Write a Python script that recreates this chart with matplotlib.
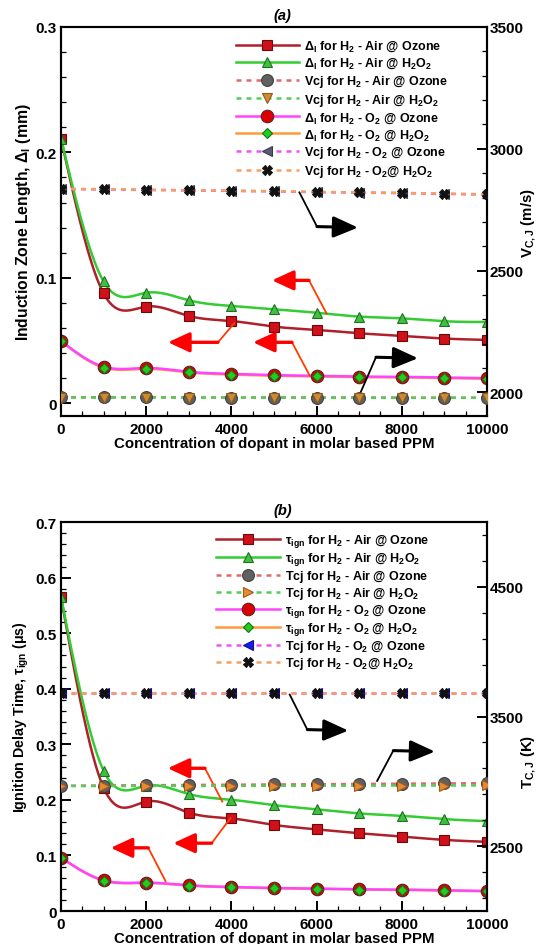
import numpy as np
import matplotlib
matplotlib.use('Agg')
import matplotlib.pyplot as plt
from matplotlib.lines import Line2D
from matplotlib.ticker import MultipleLocator, FixedLocator, FuncFormatter

plt.rcParams.update({
    'font.family': ['Liberation Sans', 'DejaVu Sans'],
    'font.weight': 'bold',
    'axes.labelweight': 'bold',
    'mathtext.fontset': 'custom',
    'mathtext.rm': 'Liberation Sans:bold',
    'mathtext.it': 'Liberation Sans:bold',
    'mathtext.bf': 'Liberation Sans:bold',
    'mathtext.default': 'regular',
})

# dopant concentration (ppm)
ppm = [0, 1000, 2000, 3000, 4000, 5000, 6000, 7000, 8000, 9000, 10000]

# (a) induction zone length (mm) and CJ velocity (m/s)
delta_air_o3 = [0.211, 0.0875, 0.077, 0.0695, 0.0655, 0.061, 0.0584, 0.0557, 0.0536, 0.0515, 0.0504]
delta_air_h2o2 = [0.211, 0.097, 0.088, 0.082, 0.0775, 0.0748, 0.0721, 0.069, 0.0676, 0.0653, 0.0647]
vcj_air_o3 = [1980, 1980, 1980, 1979, 1979, 1979, 1979, 1979, 1978, 1978, 1978]
vcj_air_h2o2 = [1979, 1979, 1979, 1979, 1979, 1979, 1978, 1978, 1978, 1978, 1978]
delta_o2_o3 = [0.0496, 0.029, 0.028, 0.025, 0.0233, 0.0223, 0.0218, 0.0212, 0.021, 0.0204, 0.0199]
delta_o2_h2o2 = [0.0494, 0.0284, 0.0273, 0.0245, 0.0228, 0.0218, 0.0213, 0.0207, 0.0205, 0.0199, 0.0194]
vcj_o2_o3 = [2835, 2833, 2831, 2829, 2827, 2825, 2822, 2820, 2818, 2815, 2812]
vcj_o2_h2o2 = [2836, 2834, 2832, 2830, 2828, 2826, 2823, 2821, 2819, 2816, 2813]

# (b) ignition delay time (us) and CJ temperature (K)
tau_air_o3 = [0.565, 0.222, 0.197, 0.177, 0.1666, 0.155, 0.147, 0.140, 0.134, 0.128, 0.1245]
tau_air_h2o2 = [0.565, 0.2525, 0.2255, 0.2105, 0.2002, 0.1906, 0.183, 0.1756, 0.1714, 0.1654, 0.1618]
tcj_air_o3 = [2966, 2968, 2970, 2972, 2974, 2976, 2978, 2980, 2982, 2984, 2986]
tcj_air_h2o2 = [2964, 2964, 2965, 2965, 2966, 2966, 2967, 2967, 2968, 2968, 2969]
tau_o2_o3 = [0.0962, 0.0553, 0.0511, 0.0463, 0.0433, 0.0415, 0.0403, 0.039, 0.0385, 0.0373, 0.036]
tau_o2_h2o2 = [0.0958, 0.0547, 0.0505, 0.0457, 0.0427, 0.041, 0.0398, 0.0385, 0.038, 0.0368, 0.0355]
tcj_o2_o3 = [3680, 3680, 3680, 3680, 3680, 3680, 3680, 3680, 3680, 3680, 3680]
tcj_o2_h2o2 = [3681, 3681, 3681, 3681, 3681, 3681, 3681, 3681, 3681, 3681, 3681]

LW = 1.8


def spline(x, y, n=600):
    # natural cubic spline through the points, like the plotting package's curve fit
    x = np.asarray(x, float)
    y = np.asarray(y, float)
    h = np.diff(x)
    m = len(x)
    A = np.zeros((m, m))
    r = np.zeros(m)
    A[0, 0] = A[-1, -1] = 1
    for i in range(1, m - 1):
        A[i, i - 1] = h[i - 1]
        A[i, i] = 2 * (h[i - 1] + h[i])
        A[i, i + 1] = h[i]
        r[i] = 6 * ((y[i + 1] - y[i]) / h[i] - (y[i] - y[i - 1]) / h[i - 1])
    M = np.linalg.solve(A, r)
    xs = np.linspace(x[0], x[-1], n)
    k = np.clip(np.searchsorted(x, xs) - 1, 0, m - 2)
    hk = h[k]
    a = x[k + 1] - xs
    b = xs - x[k]
    ys = (M[k] * a ** 3 + M[k + 1] * b ** 3) / (6 * hk) \
        + (y[k] / hk - M[k] * hk / 6) * a + (y[k + 1] / hk - M[k + 1] * hk / 6) * b
    return xs, ys


def series(ax, y, color, ls, marker, mfc, mec, ms, smooth, zl=2, zm=3):
    dash = {} if ls == '-' else {'dashes': (2.0, 2.0)}
    if smooth:
        xs, ys = spline(ppm, y)
        ax.plot(xs, ys, color=color, lw=LW, ls=ls, zorder=zl)
    else:
        ax.plot(ppm, y, color=color, lw=LW, ls=ls, zorder=zl, **dash)
    ax.plot(ppm, y, ls='none', marker=marker, mfc=mfc, mec=mec, ms=ms, mew=0.8, zorder=zm)
    return Line2D([], [], color=color, lw=LW, ls=ls, marker=marker, mfc=mfc, mec=mec, ms=ms,
                  mew=0.8, **dash)


def arrow(ax, start, corner, tip, color, lw_thin, lw_shaft, hl, hw):
    ax.plot([start[0], corner[0]], [start[1], corner[1]], color=color if color == 'k' else '#ff3b00',
            lw=lw_thin, zorder=6, solid_capstyle='butt')
    ax.annotate('', xy=tip, xytext=corner,
                arrowprops=dict(arrowstyle='-|>,head_length=%g,head_width=%g' % (hl, hw),
                                color=color, lw=lw_shaft, shrinkA=0, shrinkB=0, mutation_scale=10),
                zorder=6)


def style_axes(ax, ax2):
    ax.set_xlim(0, 10000)
    ax.xaxis.set_major_locator(MultipleLocator(2000))
    ax.xaxis.set_minor_locator(MultipleLocator(500))
    for a in (ax, ax2):
        a.tick_params(which='major', direction='in', length=7, width=1.4, labelsize=11)
        a.tick_params(which='minor', direction='in', length=3.5, width=0.9)
        for s in a.spines.values():
            s.set_linewidth(1.5)
    ax.tick_params(axis='x', pad=4)
    ax.tick_params(axis='y', pad=3)
    ax2.tick_params(axis='y', pad=2)
    ax.yaxis.set_major_formatter(FuncFormatter(lambda v, p: '%g' % round(v, 3)))
    ax.set_xlabel('Concentration of dopant in molar based PPM', fontsize=10.8, labelpad=0)


LEG = dict(loc='upper left', frameon=False, fontsize=9, handlelength=5.1, handletextpad=0.4,
           borderpad=0, numpoints=1)

fig = plt.figure(figsize=(5.44, 9.45), dpi=100)

# ---------------- (a) ----------------
ax = fig.add_axes([0.1121, 0.5587, 0.7831, 0.4117])
ax2 = ax.twinx()
h = []
h.append(series(ax, delta_air_o3, '#b0202a', '-', 's', '#d0101a', '#6a0a0a', 6.5, True))
h.append(series(ax, delta_air_h2o2, '#33cc33', '-', '^', '#40c040', '#207020', 6.5, True))
h.append(series(ax2, vcj_air_o3, '#e06a6a', '--', 'o', '#606060', '#404040', 8.5, False))
h.append(series(ax2, vcj_air_h2o2, '#55cc55', '--', 'v', '#d08a30', '#8a5a20', 7, False, zm=4))
h.append(series(ax, delta_o2_o3, '#ff44ff', '-', 'o', '#dd0000', '#602020', 9, True, zl=2.2))
h.append(series(ax, delta_o2_h2o2, '#ff9a3c', '-', 'D', '#22cc22', '#117711', 5.5, True, zl=2.1, zm=4))
h.append(series(ax2, vcj_o2_o3, '#ee55ee', '--', '<', '#5a5a70', '#3a3a50', 7, False))
h.append(series(ax2, vcj_o2_h2o2, '#f5a060', '--', 'X', '#111111', '#111111', 6.5, False, zm=4))
labels_a = [r'$\Delta_\mathregular{I}$ for H$_2$ - Air @ Ozone',
            r'$\Delta_\mathregular{I}$ for H$_2$ - Air @ H$_2$O$_2$',
            'Vcj for H$_2$ - Air @ Ozone',
            'Vcj for H$_2$ - Air @ H$_2$O$_2$',
            r'$\Delta_\mathregular{I}$ for H$_2$ - O$_2$ @ Ozone',
            r'$\Delta_\mathregular{I}$ for H$_2$ - O$_2$ @ H$_2$O$_2$',
            'Vcj for H$_2$ - O$_2$ @ Ozone',
            'Vcj for H$_2$ - O$_2$@ H$_2$O$_2$']
ax2.legend(h, labels_a, bbox_to_anchor=(0.395, 0.985), labelspacing=0.21, **LEG)
ax.set_ylim(-0.0103, 0.3)
ax.yaxis.set_major_locator(MultipleLocator(0.1))
ax.yaxis.set_minor_locator(MultipleLocator(0.02))
ax2.set_ylim(1903, 3500)
ax2.yaxis.set_major_locator(MultipleLocator(500))
ax2.yaxis.set_minor_locator(MultipleLocator(100))
style_axes(ax, ax2)
ax.set_ylabel(r'Induction Zone Length, $\Delta_\mathregular{I}$ (mm)', fontsize=11.3, labelpad=2)
ax2.set_ylabel(r'V$_\mathregular{C,J}$ (m/s)', fontsize=10.8)
ax2.yaxis.set_label_coords(1.077, 0.5)
ax.text(0.52, 1.012, '(a)', transform=ax.transAxes, ha='center', va='bottom',
        fontsize=10.5, fontstyle='italic', fontweight='bold')

arrow(ax, (5587, 0.1687), (6009, 0.1408), (6972, 0.1400), 'k', 1.3, 2.2, 1.5, 0.65)
arrow(ax, (6995, 0.0056), (7394, 0.0366), (8380, 0.0358), 'k', 1.3, 2.2, 1.5, 0.65)
arrow(ax, (6244, 0.0708), (5822, 0.0979), (4953, 0.0979), '#ff0000', 1.3, 2.4, 1.3, 0.6)
arrow(ax, (5845, 0.0215), (5423, 0.0485), (4507, 0.0485), '#ff0000', 1.3, 2.4, 1.3, 0.6)
arrow(ax, (4085, 0.0644), (3685, 0.0485), (2512, 0.0485), '#ff0000', 1.3, 2.4, 1.3, 0.6)

# ---------------- (b) ----------------
bx = fig.add_axes([0.1121, 0.0349, 0.7831, 0.4116])
bx2 = bx.twinx()
g = []
g.append(series(bx, tau_air_o3, '#b0202a', '-', 's', '#d0101a', '#6a0a0a', 6.5, True))
g.append(series(bx, tau_air_h2o2, '#33cc33', '-', '^', '#40c040', '#207020', 6.5, True))
g.append(series(bx2, tcj_air_o3, '#e06a6a', '--', 'o', '#606060', '#404040', 8.5, False))
g.append(series(bx2, tcj_air_h2o2, '#55cc55', '--', '>', '#e88a30', '#a05a20', 7, False, zm=4))
g.append(series(bx, tau_o2_o3, '#ff44ff', '-', 'o', '#dd0000', '#602020', 9, True, zl=2.2))
g.append(series(bx, tau_o2_h2o2, '#ff9a3c', '-', 'D', '#22cc22', '#117711', 5.5, True, zl=2.1, zm=4))
g.append(series(bx2, tcj_o2_o3, '#ee55ee', '--', '<', '#1a1aee', '#10108a', 7, False))
g.append(series(bx2, tcj_o2_h2o2, '#f5a060', '--', 'X', '#111111', '#111111', 6.5, False, zm=4))
labels_b = [r'$\tau_\mathregular{ign}$ for H$_2$ - Air @ Ozone',
            r'$\tau_\mathregular{ign}$ for H$_2$ - Air @ H$_2$O$_2$',
            'Tcj for H$_2$ - Air @ Ozone',
            'Tcj for H$_2$ - Air @ H$_2$O$_2$',
            r'$\tau_\mathregular{ign}$ for H$_2$ - O$_2$ @ Ozone',
            r'$\tau_\mathregular{ign}$ for H$_2$ - O$_2$ @ H$_2$O$_2$',
            'Tcj for H$_2$ - O$_2$ @ Ozone',
            'Tcj for H$_2$ - O$_2$@ H$_2$O$_2$']
bx2.legend(g, labels_b, bbox_to_anchor=(0.35, 0.99), labelspacing=0.08, **LEG)
bx.set_ylim(0, 0.7)
bx.yaxis.set_major_locator(MultipleLocator(0.1))
bx.yaxis.set_minor_locator(MultipleLocator(0.02))
bx2.set_ylim(2000, 5000)
bx2.yaxis.set_major_locator(FixedLocator([2500, 3500, 4500]))
bx2.yaxis.set_minor_locator(FixedLocator(list(range(2100, 5000, 200))))
style_axes(bx, bx2)
bx.set_ylabel(r'Ignition Delay Time, $\tau_\mathregular{ign}$ ($\mu$s)', fontsize=10.3, labelpad=3)
bx2.set_ylabel(r'T$_\mathregular{C,J}$ (K)', fontsize=10.8)
bx2.yaxis.set_label_coords(1.077, 0.386)
bx.text(0.52, 1.012, '(b)', transform=bx.transAxes, ha='center', va='bottom',
        fontsize=10.5, fontstyle='italic', fontweight='bold')

arrow(bx, (5359, 0.391), (5782, 0.3265), (6745, 0.3247), 'k', 1.3, 2.2, 1.5, 0.65)
arrow(bx, (7411, 0.2327), (7801, 0.2887), (8779, 0.2869), 'k', 1.3, 2.2, 1.5, 0.65)
arrow(bx, (3796, 0.1956), (3380, 0.2569), (2505, 0.2569), '#ff0000', 1.3, 2.4, 1.3, 0.6)
arrow(bx, (3991, 0.1685), (3537, 0.1221), (2636, 0.1221), '#ff0000', 1.3, 2.4, 1.3, 0.6)
arrow(bx, (2465, 0.0523), (2049, 0.1137), (1167, 0.1137), '#ff0000', 1.3, 2.4, 1.3, 0.6)

fig.savefig('out.png', dpi=100)
